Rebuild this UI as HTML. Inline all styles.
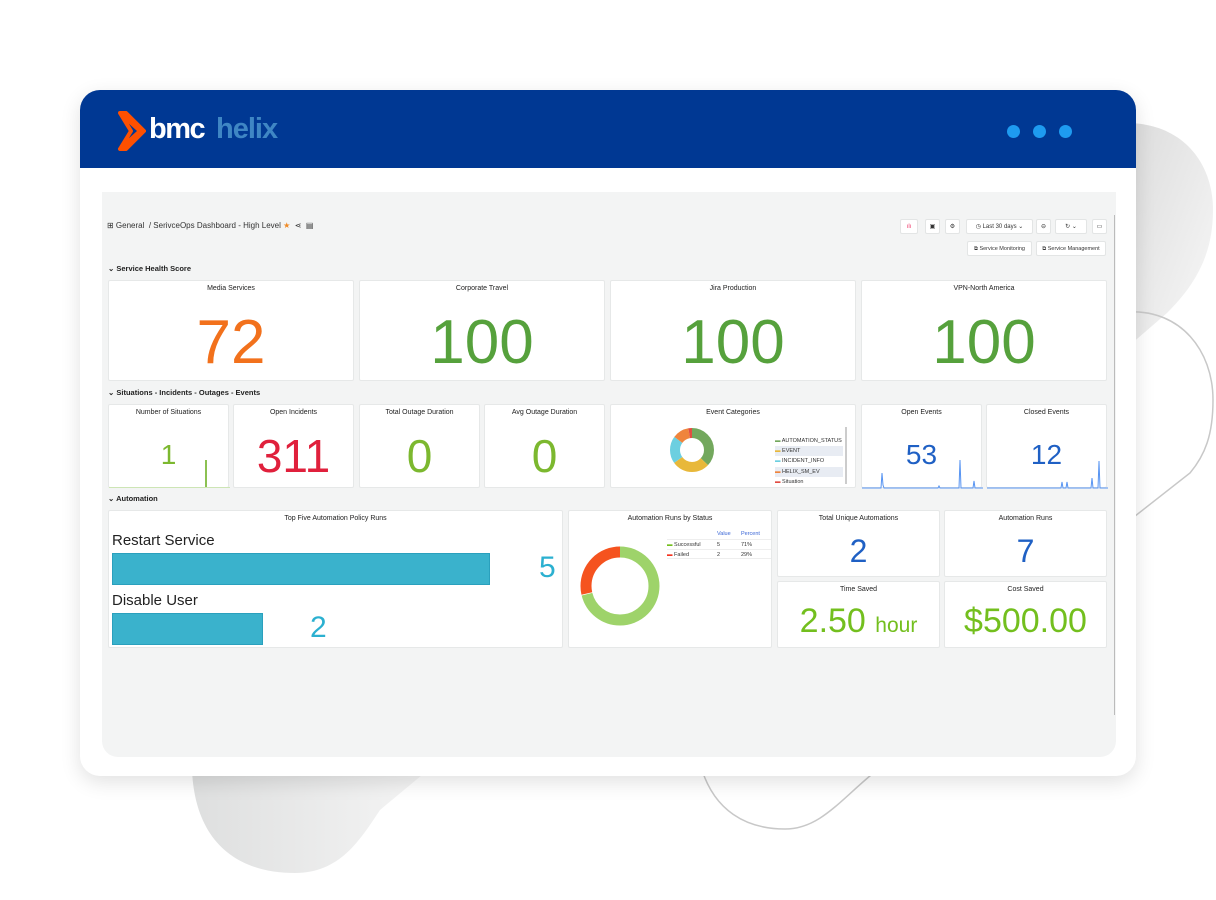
<!DOCTYPE html>
<html><head><meta charset="utf-8"><style>
*{box-sizing:border-box;margin:0;padding:0}
body{width:1216px;height:900px;background:#fff;position:relative;overflow:hidden;font-family:"Liberation Sans",Arial,sans-serif}
.a{position:absolute}
.card{left:80px;top:90px;width:1056px;height:686px;background:#fff;border-radius:20px;box-shadow:0 6px 20px rgba(0,0,0,.12);overflow:hidden}
.hdr{left:0;top:0;width:1056px;height:78px;background:#003893}
.dash{left:102px;top:192px;width:1014px;height:565px;background:#f3f4f4;border-radius:0 0 16px 16px}
.p{position:absolute;background:#fff;border:1px solid #e6e8e8;border-radius:2px}
.t{position:absolute;left:0;right:0;top:4px;text-align:center;font-size:7px;color:#222}
.n{position:absolute;left:0;right:0;text-align:center;font-family:"Liberation Sans",Arial,sans-serif}
.sec{position:absolute;font-size:7.5px;color:#222;font-weight:bold}
.btn{position:absolute;background:#fff;border:1px solid #e3e5e5;border-radius:2px;font-size:6px;color:#333;text-align:center;line-height:14px}
</style></head><body>
<svg class="a" style="left:0;top:0" width="1216" height="900">
<defs><linearGradient id="g" x1="0" y1="0" x2="1" y2="1"><stop offset="0" stop-color="#dcdcdc"/><stop offset="1" stop-color="#f8f8f8"/></linearGradient>
<linearGradient id="g2" x1="0" y1="0" x2="1" y2="0"><stop offset="0" stop-color="#dedfdf"/><stop offset="1" stop-color="#f5f5f5"/></linearGradient></defs>
<path d="M1130 123 C1185 125 1213 165 1213 210 C1213 255 1195 285 1167 313 L1130 345 Z" fill="url(#g)"/>
<path d="M1130 312 C1180 310 1213 350 1213 400 C1213 435 1205 455 1190 473 L1130 520" fill="none" stroke="#c8c8c8" stroke-width="1.5"/>
<path d="M192 770 C195 840 235 873 295 873 C340 873 360 840 380 810 L428 770 Z" fill="url(#g2)"/>
<path d="M702 770 C715 810 745 829 785 829 C820 829 840 800 877 770" fill="none" stroke="#c8c8c8" stroke-width="1.5"/>
</svg>
<div class="a card">
 <div class="a hdr">
  <svg class="a" style="left:36px;top:20px" width="30" height="42"><path d="M4 3 L24 21 L4 39 L10 39 L28 21 L10 3 Z M4 3 L15 21 L4 39" fill="none" stroke="#fe5000" stroke-width="4" stroke-linejoin="round"/></svg>
  <div class="a" style="left:69px;top:23px;font-size:29px;font-weight:bold;color:#fff;letter-spacing:-1.5px">bmc</div>
  <div class="a" style="left:136px;top:23px;font-size:29px;font-weight:bold;color:#3f86c4;letter-spacing:-1px">helix</div>
  <div class="a" style="left:927px;top:35px;width:13px;height:13px;border-radius:50%;background:#1e9bf0"></div>
  <div class="a" style="left:953px;top:35px;width:13px;height:13px;border-radius:50%;background:#1e9bf0"></div>
  <div class="a" style="left:979px;top:35px;width:13px;height:13px;border-radius:50%;background:#1e9bf0"></div>
 </div>
</div>
<div class="a dash"></div>
<div class="a" style="left:1114px;top:215px;width:1px;height:500px;background:#bbb"></div>
<div class="a" style="left:107px;top:221px;font-size:8px;color:#333">⊞ General &nbsp;/ SerivceOps Dashboard - High Level <span style="color:#f08a24">★</span> &nbsp;⋖ &nbsp;▤</div>
<div class="btn" style="left:900px;top:219px;width:18px;height:15px;color:#e36;">ılı</div>
<div class="btn" style="left:925px;top:219px;width:15px;height:15px">▣</div>
<div class="btn" style="left:945px;top:219px;width:15px;height:15px">⚙</div>
<div class="btn" style="left:966px;top:219px;width:67px;height:15px">◷ Last 30 days ⌄</div>
<div class="btn" style="left:1036px;top:219px;width:15px;height:15px">⊖</div>
<div class="btn" style="left:1055px;top:219px;width:32px;height:15px">↻ ⌄</div>
<div class="btn" style="left:1092px;top:219px;width:15px;height:15px">▭</div>
<div class="btn" style="left:967px;top:241px;width:65px;height:15px;font-size:5.5px">⧉ Service Monitoring</div>
<div class="btn" style="left:1036px;top:241px;width:70px;height:15px;font-size:5.5px">⧉ Service Management</div>

<div class="sec" style="left:108px;top:264px">⌄ Service Health Score</div>
<div class="p" style="left:108px;top:280px;width:246px;height:101px"><div class="t">Media Services</div><div class="n" style="top:26px;font-size:62px;color:#f2711c">72</div></div>
<div class="p" style="left:359px;top:280px;width:246px;height:101px"><div class="t">Corporate Travel</div><div class="n" style="top:26px;font-size:62px;color:#56a13c">100</div></div>
<div class="p" style="left:610px;top:280px;width:246px;height:101px"><div class="t">Jira Production</div><div class="n" style="top:26px;font-size:62px;color:#56a13c">100</div></div>
<div class="p" style="left:861px;top:280px;width:246px;height:101px"><div class="t">VPN-North America</div><div class="n" style="top:26px;font-size:62px;color:#56a13c">100</div></div>

<div class="sec" style="left:108px;top:388px">⌄ Situations - Incidents - Outages - Events</div>
<div class="p" style="left:108px;top:404px;width:121px;height:84px"><div class="t">Number of Situations</div><div class="n" style="top:34px;font-size:28px;color:#7cb82f">1</div><div class="a" style="left:96px;top:55px;width:1.5px;height:28px;background:#8cc152"></div><div class="a" style="left:0;top:82px;width:121px;height:1px;background:#cde5b5"></div></div>
<div class="p" style="left:233px;top:404px;width:121px;height:84px"><div class="t">Open Incidents</div><div class="n" style="top:24px;font-size:46px;color:#e0203c">311</div></div>
<div class="p" style="left:359px;top:404px;width:121px;height:84px"><div class="t">Total Outage Duration</div><div class="n" style="top:24px;font-size:46px;color:#7cb82f">0</div></div>
<div class="p" style="left:484px;top:404px;width:121px;height:84px"><div class="t">Avg Outage Duration</div><div class="n" style="top:24px;font-size:46px;color:#7cb82f">0</div></div>
<div class="p" style="left:610px;top:404px;width:246px;height:84px"><div class="t">Event Categories</div>
<svg class="a" style="left:58px;top:22px" width="46" height="46" viewBox="0 0 46 46"><g transform="rotate(-90 23 23)" fill="none" stroke-width="10">
<circle cx="23" cy="23" r="17" stroke="#73a85d" stroke-dasharray="39.5 200"/>
<circle cx="23" cy="23" r="17" stroke="#e8b83a" stroke-dasharray="0 39.5 29.9 200"/>
<circle cx="23" cy="23" r="17" stroke="#6ccfe0" stroke-dasharray="0 69.4 21.4 200"/>
<circle cx="23" cy="23" r="17" stroke="#ef843c" stroke-dasharray="0 90.8 13 200"/>
<circle cx="23" cy="23" r="17" stroke="#e24d42" stroke-dasharray="0 103.8 3 200"/></g></svg>
<div class="a" style="left:164px;top:31px;font-size:5.5px;color:#333;line-height:10.2px;width:68px">
<div><span style="color:#73a85d">▬</span> AUTOMATION_STATUS</div><div style="background:#e8ecf3"><span style="color:#e8b83a">▬</span> EVENT</div><div><span style="color:#6ccfe0">▬</span> INCIDENT_INFO</div><div style="background:#e8ecf3"><span style="color:#ef843c">▬</span> HELIX_SM_EV</div><div><span style="color:#e24d42">▬</span> Situation</div></div>
<div class="a" style="left:234px;top:22px;width:2px;height:57px;background:#ccc"></div></div>
<div class="p" style="left:861px;top:404px;width:121px;height:84px"><div class="t">Open Events</div><div class="n" style="top:34px;font-size:28px;color:#1f60c4">53</div>
<svg class="a" style="left:0;top:50px" width="121" height="34"><polyline fill="none" stroke="#5794f2" stroke-width="1" points="0,33 19,33 20,18 21,30 22,33 76,33 77,31 78,33 97,33 98,5 99,33 111,33 112,26 113,33 121,33"/></svg></div>
<div class="p" style="left:986px;top:404px;width:121px;height:84px"><div class="t">Closed Events</div><div class="n" style="top:34px;font-size:28px;color:#1f60c4">12</div>
<svg class="a" style="left:0;top:50px" width="121" height="34"><polyline fill="none" stroke="#5794f2" stroke-width="1" points="0,33 74,33 75,27 76,33 79,33 80,27 81,33 104,33 105,23 106,33 111,33 112,6 113,33 121,33"/></svg></div>

<div class="sec" style="left:108px;top:494px">⌄ Automation</div>
<div class="p" style="left:108px;top:510px;width:455px;height:138px"><div class="t">Top Five Automation Policy Runs</div>
<div class="a" style="left:3px;top:21px;font-size:15px;color:#222">Restart Service</div>
<div class="a" style="left:3px;top:42px;width:378px;height:32px;background:#3ab2cc;border:1px solid #2aa0bd"></div>
<div class="a" style="left:430px;top:40px;font-size:30px;color:#2bb0d0">5</div>
<div class="a" style="left:3px;top:81px;font-size:15px;color:#222">Disable User</div>
<div class="a" style="left:3px;top:102px;width:151px;height:32px;background:#3ab2cc;border:1px solid #2aa0bd"></div>
<div class="a" style="left:201px;top:100px;font-size:30px;color:#2bb0d0">2</div></div>
<div class="p" style="left:568px;top:510px;width:204px;height:138px"><div class="t">Automation Runs by Status</div>
<svg class="a" style="left:10px;top:34px" width="82" height="82" viewBox="0 0 82 82"><g transform="rotate(-90 41 41)" fill="none" stroke-width="11">
<circle cx="41" cy="41" r="34" stroke="#9ed36a" stroke-dasharray="151.7 300"/>
<circle cx="41" cy="41" r="34" stroke="#f5531f" stroke-dasharray="0 152.4 61.2 300"/></g></svg>
<div class="a" style="left:98px;top:20px;width:104px;font-size:5.5px;color:#333">
<div style="position:relative;height:8px;color:#3a66d6"><span class="a" style="left:50px">Value</span><span class="a" style="left:74px">Percent</span></div>
<div style="position:relative;height:10px;border-top:1px solid #eee;line-height:10px"><span style="color:#73bf1e">▬</span> Successful<span class="a" style="left:50px">5</span><span class="a" style="left:74px">71%</span></div>
<div style="position:relative;height:10px;border-top:1px solid #eee;border-bottom:1px solid #eee;line-height:10px"><span style="color:#f5331f">▬</span> Failed<span class="a" style="left:50px">2</span><span class="a" style="left:74px">29%</span></div></div></div>
<div class="p" style="left:777px;top:510px;width:163px;height:67px"><div class="t">Total Unique Automations</div><div class="n" style="top:22px;font-size:32px;color:#1f60c4">2</div></div>
<div class="p" style="left:944px;top:510px;width:163px;height:67px"><div class="t">Automation Runs</div><div class="n" style="top:22px;font-size:32px;color:#1f60c4">7</div></div>
<div class="p" style="left:777px;top:581px;width:163px;height:67px"><div class="t">Time Saved</div><div class="n" style="top:20px;font-size:34px;color:#73bf1e">2.50 <span style="font-size:21px">hour</span></div></div>
<div class="p" style="left:944px;top:581px;width:163px;height:67px"><div class="t">Cost Saved</div><div class="n" style="top:20px;font-size:34px;color:#73bf1e">$500.00</div></div>
</body></html>
